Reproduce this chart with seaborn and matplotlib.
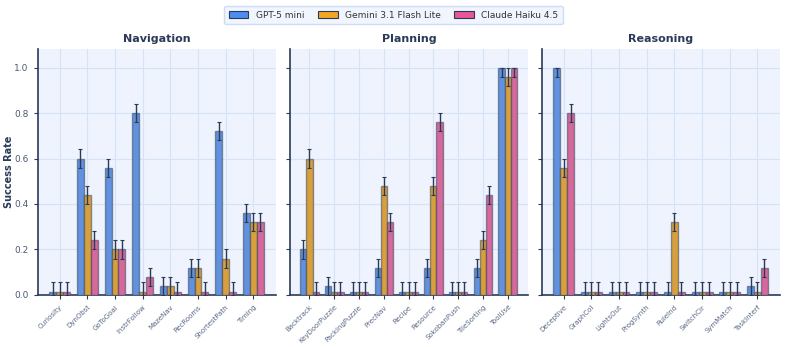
import numpy as np
import pandas as pd
import matplotlib
matplotlib.use("Agg")
import matplotlib.pyplot as plt
import seaborn as sns
from matplotlib.patches import Patch

models = ["GPT-5 mini", "Gemini 3.1 Flash Lite", "Claude Haiku 4.5"]
colors = ["#4d8df2", "#f2a623", "#e8579a"]

nav_tasks = ["Curiosity", "DynObst", "GoToGoal", "InstrFollow", "MazeNav",
             "RecRooms", "ShortestPath", "Timing"]
nav_gpt = [0.0, 0.60, 0.56, 0.80, 0.04, 0.12, 0.72, 0.36]
nav_gemini = [0.0, 0.44, 0.20, 0.0, 0.04, 0.12, 0.16, 0.32]
nav_claude = [0.0, 0.24, 0.20, 0.08, 0.0, 0.0, 0.0, 0.32]

plan_tasks = ["Backtrack", "KeyDoorPuzzle", "PackingPuzzle", "PrecNav", "Recipe",
              "Resource", "SokobanPush", "TileSorting", "ToolUse"]
plan_gpt = [0.20, 0.04, 0.0, 0.12, 0.0, 0.12, 0.0, 0.12, 1.00]
plan_gemini = [0.60, 0.0, 0.0, 0.48, 0.0, 0.48, 0.0, 0.24, 0.96]
plan_claude = [0.0, 0.0, 0.0, 0.32, 0.0, 0.76, 0.0, 0.44, 1.00]

reas_tasks = ["Deceptive", "GraphCol", "LightsOut", "ProgSynth", "RuleInd",
              "SwitchCir", "SymMatch", "TaskInterf"]
reas_gpt = [1.00, 0.0, 0.0, 0.0, 0.0, 0.0, 0.0, 0.04]
reas_gemini = [0.56, 0.0, 0.0, 0.0, 0.32, 0.0, 0.0, 0.0]
reas_claude = [0.80, 0.0, 0.0, 0.0, 0.0, 0.0, 0.0, 0.12]

err = 0.04        # standard error shown on every bar
floor = 0.015     # zero results drawn as a thin stub

navy = "#2b3a58"
bg = "#eef3fd"
gridc = "#d6e2f8"

sns.set_style("white", rc={"axes.facecolor": bg})
plt.rcParams["font.family"] = ["DejaVu Sans"]

groups = [
    ("Navigation", nav_tasks, [nav_gpt, nav_gemini, nav_claude]),
    ("Planning", plan_tasks, [plan_gpt, plan_gemini, plan_claude]),
    ("Reasoning", reas_tasks, [reas_gpt, reas_gemini, reas_claude]),
]

fig, axes = plt.subplots(1, 3, figsize=(7.87, 3.47), dpi=100, sharey=True)
fig.subplots_adjust(left=0.048, right=0.991, bottom=0.15, top=0.859, wspace=0.059)

for ax, (title, tasks, series) in zip(axes, groups):
    rows = []
    for m, vals in zip(models, series):
        for t, v in zip(tasks, vals):
            rows.append({"task": t, "model": m, "rate": v, "shown": max(v, floor)})
    df = pd.DataFrame(rows)

    sns.barplot(data=df, x="task", y="shown", hue="model", hue_order=models,
                order=tasks, palette=colors, width=0.75, errorbar=None,
                edgecolor=(0.17, 0.23, 0.33, 0.5), linewidth=1.0,
                legend=False, ax=ax, zorder=3)

    # error bars, clipped to [0, 1]
    for cont, m in zip(ax.containers, models):
        sub = df[df.model == m].set_index("task").loc[tasks]
        for bar, v in zip(cont, sub["rate"]):
            xc = bar.get_x() + bar.get_width() / 2
            h = bar.get_height()
            lo = min(err, h)
            hi = min(err, max(0, 1.0 - v)) if v > 0 else err
            ax.errorbar(xc, h, yerr=[[lo], [hi]], fmt="none", ecolor=navy,
                        elinewidth=1.0, capsize=1.5, capthick=0.8, zorder=4)

    ax.set_xlim(-0.79, len(tasks) - 0.19)
    ax.set_ylim(0, 1.082)
    ax.set_yticks([0, 0.2, 0.4, 0.6, 0.8, 1.0])
    ax.grid(True, color=gridc, linewidth=0.8, zorder=0)
    ax.set_axisbelow(True)
    ax.set_title(title, fontsize=8, fontweight="bold", color=navy, pad=5)
    ax.set_xlabel("")
    ax.set_ylabel("")
    for s in ["top", "right"]:
        ax.spines[s].set_visible(False)
    for s in ["left", "bottom"]:
        ax.spines[s].set_color(navy)
        ax.spines[s].set_linewidth(1.2)
    ax.tick_params(axis="both", length=3, width=0.8, color=navy,
                   labelsize=6.5, labelcolor="#4a5a75", left=True, bottom=True)
    plt.setp(ax.get_xticklabels(), rotation=45, ha="right",
             rotation_mode="anchor", fontsize=5, color="#5a6a85")

axes[0].set_ylabel("Success Rate", fontsize=7, fontweight="bold", color=navy)
axes[0].yaxis.set_label_coords(-0.10, 0.5)
axes[0].set_yticklabels(["0.0", "0.2", "0.4", "0.6", "0.8", "1.0"])

handles = [Patch(facecolor=c, edgecolor=navy, linewidth=0.8) for c in colors]
leg = fig.legend(handles, models, loc="upper center", bbox_to_anchor=(0.5, 0.995),
                 ncol=3, fontsize=6.5, frameon=True, handlelength=2.2,
                 handleheight=0.8, columnspacing=1.5, borderpad=0.5,
                 fancybox=True)
leg.get_frame().set_facecolor(bg)
leg.get_frame().set_edgecolor("#c5d5f5")
for t in leg.get_texts():
    t.set_color("#333333")

fig.savefig("out.png", dpi=100)
